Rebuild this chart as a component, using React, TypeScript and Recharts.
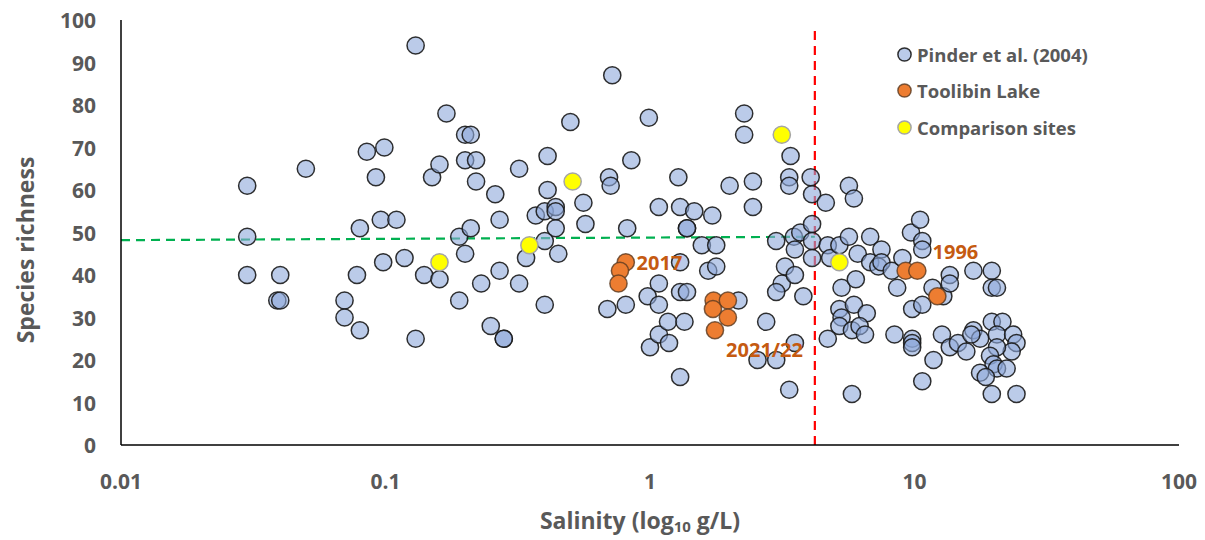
import React from 'react';
import { ScatterChart, Scatter, XAxis, YAxis, ReferenceLine } from 'recharts';

// Pinder et al. (2004): [salinity g/L, species richness]
const pinderPoints: [number, number][] = [
  [0.03, 61], [0.03, 49], [0.03, 40], [0.039, 34], [0.04, 34], [0.04, 40], [0.05, 65],
  [0.07, 34], [0.07, 30], [0.08, 51], [0.078, 40], [0.08, 27], [0.085, 69], [0.092, 63],
  [0.096, 53], [0.099, 70], [0.098, 43], [0.11, 53], [0.118, 44], [0.13, 94], [0.13, 25],
  [0.14, 40], [0.15, 63], [0.16, 66], [0.16, 39], [0.17, 78], [0.2, 73], [0.21, 73],
  [0.2, 67], [0.22, 67], [0.22, 62], [0.2, 45], [0.19, 49], [0.21, 51], [0.19, 34],
  [0.23, 38], [0.26, 59], [0.27, 53], [0.27, 41], [0.25, 28], [0.28, 25], [0.28, 25],
  [0.32, 65], [0.32, 38], [0.34, 44], [0.37, 54], [0.4, 55], [0.41, 68], [0.41, 60],
  [0.44, 56], [0.44, 55], [0.44, 51], [0.4, 48], [0.45, 45], [0.4, 33], [0.5, 76],
  [0.56, 57], [0.57, 52], [0.7, 63], [0.71, 61], [0.72, 87], [0.69, 32], [0.82, 51],
  [0.81, 33], [0.85, 67], [0.99, 77], [0.98, 35], [1.0, 23], [1.08, 56], [1.08, 38],
  [1.08, 33], [1.08, 26], [1.17, 29], [1.18, 24], [1.28, 63], [1.3, 56], [1.3, 43],
  [1.3, 36], [1.38, 36], [1.3, 16], [1.35, 29], [1.38, 51], [1.38, 51], [1.47, 55],
  [1.57, 47], [1.66, 41], [1.72, 54], [1.78, 47], [1.78, 42], [2.0, 61], [2.16, 34],
  [2.27, 78], [2.27, 73], [2.45, 62], [2.45, 56], [2.55, 20], [2.75, 29], [3.0, 20],
  [3.0, 48], [3.15, 38], [3.0, 36], [3.24, 42], [3.53, 40], [3.8, 35], [3.53, 24],
  [3.36, 13], [3.4, 68], [3.36, 63], [3.36, 61], [3.5, 49], [3.7, 50], [3.53, 46],
  [4.05, 63], [4.1, 59], [4.1, 52], [4.1, 48], [4.1, 44], [4.62, 57], [4.7, 47],
  [4.8, 44], [5.2, 47], [5.65, 61], [5.9, 58], [5.65, 49], [6.1, 45], [6.8, 49],
  [6.8, 43], [7.5, 46], [7.3, 42], [7.5, 43], [8.2, 41], [9.0, 44], [9.7, 50],
  [10.5, 53], [10.7, 48], [10.7, 46], [8.6, 37], [5.3, 37], [6.0, 39], [5.2, 32],
  [5.3, 30], [5.9, 33], [6.6, 31], [5.2, 28], [5.8, 27], [6.2, 28], [6.5, 26],
  [4.7, 25], [5.8, 12], [8.4, 26], [9.8, 25], [9.8, 24], [9.8, 23], [9.8, 32],
  [10.7, 33], [11.7, 37], [12.85, 35], [13.6, 40], [13.6, 38], [12.7, 26], [13.6, 23],
  [14.6, 24], [15.7, 22], [11.8, 20], [10.7, 15], [16.7, 41], [19.6, 41], [19.6, 37],
  [20.5, 37], [16.7, 27], [19.6, 29], [21.5, 29], [17.7, 25], [16.4, 26], [20.5, 26],
  [23.6, 26], [24.3, 24], [23.3, 22], [20.5, 23], [19.3, 21], [19.9, 19], [20.5, 18],
  [22.3, 18], [17.7, 17], [18.6, 16], [19.6, 12], [24.3, 12],
];

// Toolibin Lake
const toolibinPoints: [number, number][] = [
  [0.81, 43], [0.77, 41], [0.76, 38],
  [1.74, 34], [1.97, 34], [1.73, 32], [1.97, 30], [1.76, 27],
  [9.26, 41], [10.25, 41], [12.2, 35],
];

// Comparison sites
const comparisonPoints: [number, number][] = [
  [0.16, 43], [0.35, 47], [0.51, 62], [3.15, 73], [5.2, 43],
];

// Year annotations (anchored at left-middle of text)
const annotationLabels = ['2017', '2021/22', '1996'];
const annotationX = [0.89, 1.94, 11.7];
const annotationY = [43, 22.4, 45.6];

const xTicks = [0.01, 0.1, 1, 10, 100];
const xTickLabels = ['0.01', '0.1', '1', '10', '100'];
const yTicks = [0, 10, 20, 30, 40, 50, 60, 70, 80, 90, 100];

const salinityThreshold = 4.2;
const thresholdTop = 98;
const meanLineStart = { x: 0.01, y: 48.2 };
const meanLineEnd = { x: 4.2, y: 49 };

const seriesNames = ['Pinder et al. (2004)', 'Toolibin Lake', 'Comparison sites'];

const toData = (pts: [number, number][]) => pts.map(([x, y]) => ({ x, y }));
const pinderData = toData(pinderPoints);
const toolibinData = toData(toolibinPoints);
const comparisonData = toData(comparisonPoints);
const annotationData = annotationLabels.map((label, i) => ({ x: annotationX[i], y: annotationY[i], label }));

const FONT = '"Open Sans", "DejaVu Sans", sans-serif';
const GREY = '#595959';
const ORANGE_TEXT = '#C55A11';

const styles = [
  { fill: '#8EA9DB', fillOpacity: 0.6, stroke: '#1a1a1a', strokeOpacity: 0.9 },
  { fill: '#ED7D31', fillOpacity: 1, stroke: '#5a3a20', strokeOpacity: 0.8 },
  { fill: '#FFFF00', fillOpacity: 1, stroke: '#A5A5A5', strokeOpacity: 1 },
];

const makeShape = (s: typeof styles[number]) => (props: any) => {
  const { cx, cy } = props;
  if (cx == null || cy == null) return <g />;
  return (
    <circle cx={cx} cy={cy} r={8.6} fill={s.fill} fillOpacity={s.fillOpacity}
      stroke={s.stroke} strokeOpacity={s.strokeOpacity} strokeWidth={1.5} />
  );
};

const annotationShape = (props: any) => {
  const { cx, cy, payload } = props;
  if (cx == null || cy == null) return <g />;
  return (
    <text x={cx} y={cy} fill={ORANGE_TEXT} fontFamily={FONT} fontWeight={700} fontSize={20}
      dominantBaseline="central">{payload.label}</text>
  );
};

const XTick = (props: any) => {
  const { x, y, payload } = props;
  const idx = xTicks.indexOf(payload.value);
  return (
    <text x={x} y={y + 34} textAnchor="middle" dominantBaseline="central" fill={GREY}
      fontFamily={FONT} fontWeight={700} fontSize={21}>
      {idx >= 0 ? xTickLabels[idx] : String(payload.value)}
    </text>
  );
};

const YTick = (props: any) => {
  const { x, y, payload } = props;
  return (
    <text x={x - 23} y={y} textAnchor="end" dominantBaseline="central" fill={GREY}
      fontFamily={FONT} fontWeight={700} fontSize={21}>
      {payload.value}
    </text>
  );
};

const XTitle = (props: any) => {
  const vb = props.viewBox || { x: 121, y: 445, width: 1058, height: 95 };
  const cx = vb.x + vb.width / 2 - 10;
  const cy = vb.y + 75;
  return (
    <text x={cx} y={cy} textAnchor="middle" dominantBaseline="central" fill={GREY}
      fontFamily={FONT} fontWeight={700} fontSize={23}>
      <tspan>Salinity (log</tspan>
      <tspan fontSize={15} dy={6}>10</tspan>
      <tspan dy={-6}> g/L)</tspan>
    </text>
  );
};

const YTitle = () => {
  const cx = 25;
  const cy = 250;
  return (
    <text x={cx} y={cy} transform={`rotate(-90 ${cx} ${cy})`} textAnchor="middle"
      dominantBaseline="central" fill={GREY} fontFamily={FONT} fontWeight={700} fontSize={23}>
      Species richness
    </text>
  );
};

const Legend = () => (
  <div style={{ position: 'absolute', left: 896, top: 36, fontFamily: FONT }}>
    {seriesNames.map((name, i) => (
      <div key={name} style={{ display: 'flex', alignItems: 'center', height: 36.5 }}>
        <svg width={17} height={17} style={{ marginRight: 4 }}>
          <circle cx={8.5} cy={8.5} r={6.6} fill={styles[i].fill} fillOpacity={styles[i].fillOpacity}
            stroke={styles[i].stroke} strokeOpacity={styles[i].strokeOpacity} strokeWidth={1.5} />
        </svg>
        <span style={{ color: GREY, fontWeight: 700, fontSize: 18.5, whiteSpace: 'nowrap' }}>{name}</span>
      </div>
    ))}
  </div>
);

export default function App() {
  return (
    <div style={{ position: 'absolute', left: 0, top: 0, width: 1205, height: 540, background: '#fff' }}>
      <ScatterChart width={1205} height={540} margin={{ top: 20, right: 26, bottom: 0, left: 0 }}>
        <XAxis type="number" dataKey="x" scale="log" domain={[0.01, 100]} allowDataOverflow
          ticks={xTicks} tick={<XTick />} tickLine={false} tickSize={0} height={95}
          axisLine={{ stroke: '#000', strokeWidth: 1.5 }} label={<XTitle />} />
        <YAxis type="number" dataKey="y" domain={[0, 100]} allowDataOverflow ticks={yTicks}
          tick={<YTick />} tickLine={false} tickSize={0} width={121}
          axisLine={{ stroke: '#000', strokeWidth: 1.5 }} label={<YTitle />} />
        <Scatter name={seriesNames[0]} data={pinderData} shape={makeShape(styles[0])} isAnimationActive={false} />
        <Scatter name={seriesNames[1]} data={toolibinData} shape={makeShape(styles[1])} isAnimationActive={false} />
        <Scatter name={seriesNames[2]} data={comparisonData} shape={makeShape(styles[2])} isAnimationActive={false} />
        <Scatter name="labels" data={annotationData} shape={annotationShape} isAnimationActive={false} legendType="none" />
        <ReferenceLine segment={[meanLineStart, meanLineEnd]} stroke="#00B050" strokeWidth={2.2}
          strokeDasharray="9 6" ifOverflow="visible" />
        <ReferenceLine segment={[{ x: salinityThreshold, y: 0 }, { x: salinityThreshold, y: thresholdTop }]}
          stroke="#FF0000" strokeWidth={2.2} strokeDasharray="9 6" ifOverflow="visible" />
      </ScatterChart>
      <Legend />
    </div>
  );
}
